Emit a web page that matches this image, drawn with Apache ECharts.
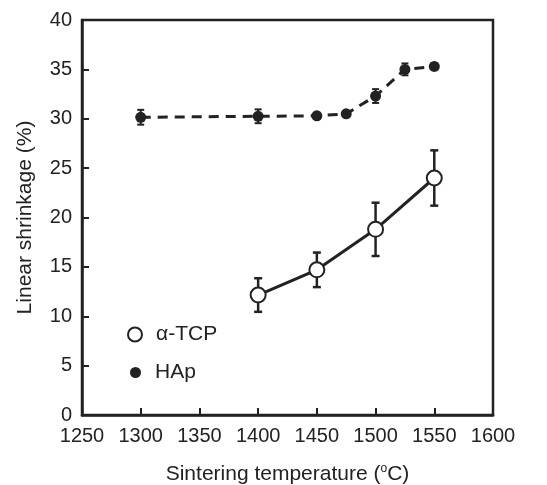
<!DOCTYPE html>
<html><head><meta charset="utf-8">
<script src="https://cdn.jsdelivr.net/npm/echarts@6/dist/echarts.min.js"></script>
<style>html,body{margin:0;padding:0;background:#fff}#c{width:547px;height:485px}</style>
</head><body><div id="c"></div>
<script>
const hapTemps = [1300, 1400, 1450, 1475, 1500, 1525, 1550];
const hapValues = [30.15, 30.25, 30.3, 30.5, 32.3, 35.0, 35.3];
const hapErrors = [0.75, 0.7, 0.3, 0.2, 0.7, 0.6, 0.3];
const tcpTemps = [1400, 1450, 1500, 1550];
const tcpValues = [12.15, 14.7, 18.8, 24.0];
const tcpErrors = [1.7, 1.75, 2.7, 2.8];

const font = '"Liberation Sans", Arial, sans-serif';
const ink = '#222';

function errData(t, v, e) { return t.map((x, i) => [x, v[i] - e[i], v[i] + e[i]]); }
function errSeries(data, cap, w) {
  return {
    type: 'custom', data: data, z: 1, silent: true,
    renderItem: function (params, api) {
      const lo = api.coord([api.value(0), api.value(1)]);
      const hi = api.coord([api.value(0), api.value(2)]);
      const st = { stroke: ink, lineWidth: w };
      return { type: 'group', children: [
        { type: 'line', shape: { x1: lo[0], y1: lo[1], x2: hi[0], y2: hi[1] }, style: st },
        { type: 'line', shape: { x1: lo[0] - cap, y1: lo[1], x2: lo[0] + cap, y2: lo[1] }, style: st },
        { type: 'line', shape: { x1: hi[0] - cap, y1: hi[1], x2: hi[0] + cap, y2: hi[1] }, style: st }
      ]};
    }
  };
}

const chart = echarts.init(document.getElementById('c'));
chart.setOption({
  animation: false,
  backgroundColor: '#fff',
  grid: { left: 82, right: 54, top: 20, bottom: 70, show: true, borderColor: ink, borderWidth: 2.5,
          containLabel: false, outerBoundsMode: 'none' },
  xAxis: {
    type: 'value', min: 1250, max: 1600, interval: 50,
    splitLine: { show: false },
    axisLine: { lineStyle: { color: ink, width: 2.5 } },
    axisTick: { inside: true, length: 7, lineStyle: { color: ink, width: 2 } },
    axisLabel: { color: ink, fontSize: 20, fontFamily: font, margin: 11, formatter: v => String(v) },
    name: 'Sintering temperature ({sup|o}C)', nameLocation: 'middle', nameGap: 48,
    nameTextStyle: { color: ink, fontSize: 21, fontFamily: font,
      rich: { sup: { fontSize: 12, verticalAlign: 'top', padding: [0, 0, 10, 0], color: ink, fontFamily: font } } }
  },
  yAxis: {
    type: 'value', min: 0, max: 40, interval: 5,
    splitLine: { show: false },
    axisLine: { lineStyle: { color: ink, width: 2.5 } },
    axisTick: { inside: true, length: 7, lineStyle: { color: ink, width: 2 } },
    axisLabel: { color: ink, fontSize: 20, fontFamily: font, margin: 10 },
    name: 'Linear shrinkage (%)', nameLocation: 'middle', nameGap: 46,
    nameTextStyle: { color: ink, fontSize: 21, fontFamily: font }
  },
  legend: [
    { orient: 'vertical', left: 122, top: 319, icon: 'circle', itemWidth: 14, itemHeight: 14,
      data: ['α-TCP'], textStyle: { color: ink, fontSize: 21, fontFamily: font, padding: [0,0,0,9] } },
    { orient: 'vertical', left: 125, top: 357, icon: 'circle', itemWidth: 11, itemHeight: 11,
      data: ['HAp'], textStyle: { color: ink, fontSize: 21, fontFamily: font, padding: [0,0,0,9] } }
  ],
  series: [
    errSeries(errData(hapTemps, hapValues, hapErrors), 3.5, 2),
    errSeries(errData(tcpTemps, tcpValues, tcpErrors), 4, 2.5),
    { name: 'HAp', type: 'line', z: 3, data: hapTemps.map((t, i) => [t, hapValues[i]]),
      symbol: 'circle', symbolSize: 11, itemStyle: { color: ink },
      lineStyle: { color: ink, width: 3, type: [10, 7] } },
    { name: 'α-TCP', type: 'line', z: 3, data: tcpTemps.map((t, i) => [t, tcpValues[i]]),
      symbol: 'circle', symbolSize: 15, itemStyle: { color: '#fff', borderColor: ink, borderWidth: 2 },
      lineStyle: { color: ink, width: 3 } }
  ]
});
</script></body></html>
